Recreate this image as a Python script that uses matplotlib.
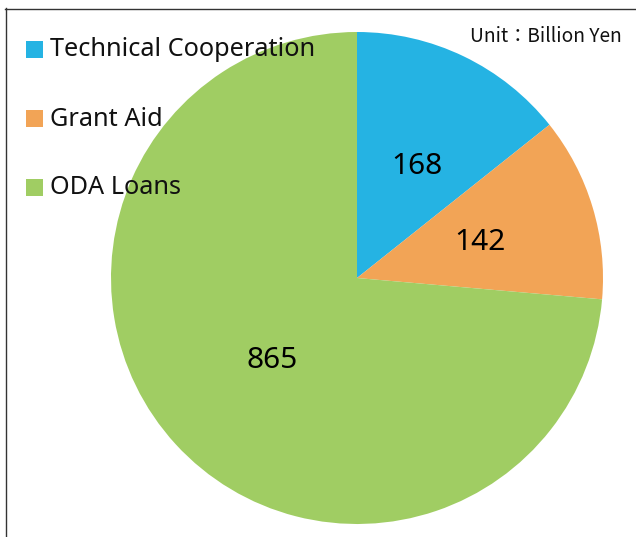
import matplotlib.pyplot as plt
from matplotlib.patches import Rectangle
from matplotlib.lines import Line2D

# ODA breakdown, billion yen
categories = ['Technical Cooperation', 'Grant Aid', 'ODA Loans']
values = [168, 142, 865]
colors = ['#25B3E3', '#F2A456', '#A0CD63']

W, H = 636, 537
fig = plt.figure(figsize=(W / 100, H / 100), dpi=100)
ax = fig.add_axes([0, 0, 1, 1])

# pixel positions measured from the top, flipped for the axes
def fy(y):
    return H - y

cx, cy, r = 357, 278, 246
ax.pie(values, colors=colors, startangle=90, counterclock=False,
       center=(cx, fy(cy)), radius=r, frame=True,
       wedgeprops=dict(linewidth=0))
ax.set_xlim(0, W)
ax.set_ylim(0, H)
ax.set_aspect('equal')
ax.axis('off')

# value labels
label_pos = [(417, 167), (480, 242), (272, 360)]
for (x, y), v in zip(label_pos, values):
    ax.text(x, fy(y), str(v), ha='center', va='center', fontsize=21.5,
            family='Noto Sans', color='black')

# legend
ys = [49, 118, 187]
for name, c, y in zip(categories, colors, ys):
    ax.add_patch(Rectangle((26, fy(y) - 8.5), 17, 17, color=c, lw=0))
    ax.text(50, fy(y + 1), name, ha='left', va='center', fontsize=18.2,
            family='Noto Sans', color='#111111')

ax.text(622, fy(37), 'Unit：Billion Yen', ha='right', va='center', fontsize=13.8,
        family=['Noto Sans CJK JP', 'DejaVu Sans'], color='#111111')

# frame
ax.add_line(Line2D([5.5, 5.5], [0, fy(8)], color='#333333', lw=1))
ax.add_line(Line2D([5, W], [fy(8.5), fy(8.5)], color='#333333', lw=1))

fig.savefig('out.png', dpi=100)
